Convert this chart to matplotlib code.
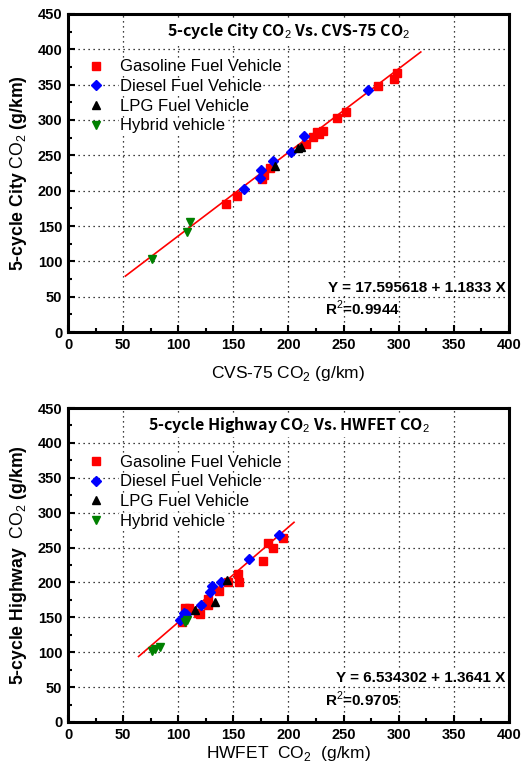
import matplotlib
matplotlib.use('Agg')
import matplotlib.pyplot as plt
from matplotlib.ticker import MultipleLocator

plt.rcParams['font.family'] = ['Liberation Sans', 'DejaVu Sans']
plt.rcParams['mathtext.fontset'] = 'custom'
plt.rcParams['mathtext.rm'] = 'Liberation Sans'
plt.rcParams['mathtext.bf'] = 'Liberation Sans:bold'

# ---- top panel: 5-cycle city vs CVS-75 ----
city_gas_x = [143, 153, 176, 178, 183, 216, 222, 226, 228, 231, 244, 252, 281, 296, 298]
city_gas_y = [181, 193, 217, 222, 232, 266, 276, 283, 280, 284, 303, 311, 348, 358, 367]
city_diesel_x = [160, 174, 175, 186, 202, 214, 272]
city_diesel_y = [202, 218, 229, 242, 255, 277, 343]
city_lpg_x = [188, 209, 211]
city_lpg_y = [235, 261, 262]
city_hybrid_x = [76, 108, 111]
city_hybrid_y = [104, 142, 155]
city_fit = (17.595618, 1.1833)
city_fit_range = (52, 320)
city_r2 = '0.9944'

# ---- bottom panel: 5-cycle highway vs HWFET ----
hwy_gas_x = [103, 106, 110, 118, 120, 127, 127, 137, 145, 154, 155, 177, 181, 186, 195]
hwy_gas_y = [144, 163, 164, 156, 155, 176, 168, 188, 200, 212, 201, 230, 256, 249, 264]
hwy_diesel_x = [102, 105, 107, 121, 129, 131, 139, 164, 191]
hwy_diesel_y = [146, 156, 155, 168, 187, 195, 200, 234, 268]
hwy_lpg_x = [115, 133, 144]
hwy_lpg_y = [160, 172, 203]
hwy_hybrid_x = [76, 79, 83, 106, 108]
hwy_hybrid_y = [102, 104, 108, 144, 146]
hwy_fit = (6.534302, 1.3641)
hwy_fit_range = (64, 205)
hwy_r2 = '0.9705'

labels = ['Gasoline Fuel Vehicle', 'Diesel Fuel Vehicle', 'LPG Fuel Vehicle', 'Hybrid vehicle']
colors = ['#ff0000', '#0000ff', '#000000', '#008000']
markers = ['s', 'D', '^', 'v']


def draw_panel(ax, series, fit, fit_range, r2, title, xlabel, ylabel, xpad, leg_top):
    for (xs, ys), lab, c, m in zip(series, labels, colors, markers):
        ax.plot(xs, ys, linestyle='none', marker=m, color=c, markersize=5.5 if m != 'D' else 5,
                label=lab, zorder=3)

    # regression line
    a, b = fit
    x0, x1 = fit_range
    ax.plot([x0, x1], [a + b * x0, a + b * x1], color='#ff0000', linewidth=1.2, zorder=2)

    ax.set_xlim(0, 400)
    ax.set_ylim(0, 450)
    ax.xaxis.set_major_locator(MultipleLocator(50))
    ax.xaxis.set_minor_locator(MultipleLocator(25))
    ax.yaxis.set_major_locator(MultipleLocator(50))
    ax.yaxis.set_minor_locator(MultipleLocator(25))
    ax.tick_params(which='both', direction='in', width=1.5)
    ax.tick_params(which='major', length=5, labelsize=10.5, pad=4)
    ax.tick_params(which='minor', length=3)
    for lbl in ax.get_xticklabels() + ax.get_yticklabels():
        lbl.set_fontweight('bold')
    for sp in ax.spines.values():
        sp.set_linewidth(2.2)
    ax.grid(True, linestyle=(0, (1, 3)), color='black', linewidth=0.9)
    ax.set_axisbelow(True)

    ax.set_xlabel(xlabel, fontsize=12.5, labelpad=xpad)
    ax.set_ylabel(ylabel, fontsize=12.7, fontweight='bold', labelpad=6)

    ax.text(200, 426, title, ha='center', va='center', fontsize=11.5,
            family=['Noto Sans CJK KR', 'DejaVu Sans'], fontweight='bold',
            bbox=dict(facecolor='white', edgecolor='none', pad=1.5), zorder=4)

    leg = ax.legend(loc='upper left', bbox_to_anchor=(0.045, leg_top), frameon=False,
                    fontsize=12, handlelength=1.0, handletextpad=0.93, labelspacing=0.28,
                    borderaxespad=0, borderpad=0)
    for t in leg.get_texts():
        t.set_bbox(dict(facecolor='white', edgecolor='none', pad=0.5))

    ax.text(397, 63, 'Y = %s + %s X' % (('%.6f' % a), ('%.4f' % b)), ha='right', va='center',
            fontsize=11, fontweight='semibold',
            bbox=dict(facecolor='white', edgecolor='none', pad=0.5))
    ax.text(233, 33, 'R$^2$=' + r2, ha='left', va='center', fontsize=11, fontweight='semibold')


fig = plt.figure(figsize=(5.28, 7.72), dpi=100)
ax1 = fig.add_axes([0.1288, 0.5699, 0.8352, 0.412])
ax2 = fig.add_axes([0.1288, 0.0648, 0.8352, 0.4067])

draw_panel(ax1,
           [(city_gas_x, city_gas_y), (city_diesel_x, city_diesel_y),
            (city_lpg_x, city_lpg_y), (city_hybrid_x, city_hybrid_y)],
           city_fit, city_fit_range, city_r2,
           '5-cycle City CO$_2$ Vs. CVS-75 CO$_2$',
           'CVS-75 CO$_2$ (g/km)', r'5-cycle City $\mathrm{CO_2}$ (g/km)',
           xpad=9, leg_top=0.857)

draw_panel(ax2,
           [(hwy_gas_x, hwy_gas_y), (hwy_diesel_x, hwy_diesel_y),
            (hwy_lpg_x, hwy_lpg_y), (hwy_hybrid_x, hwy_hybrid_y)],
           hwy_fit, hwy_fit_range, hwy_r2,
           '5-cycle Highway CO$_2$ Vs. HWFET CO$_2$',
           'HWFET  CO$_2$  (g/km)', r'5-cycle Highway  $\mathrm{CO_2}$ (g/km)',
           xpad=1.5, leg_top=0.851)

fig.savefig('out.png', dpi=100)
